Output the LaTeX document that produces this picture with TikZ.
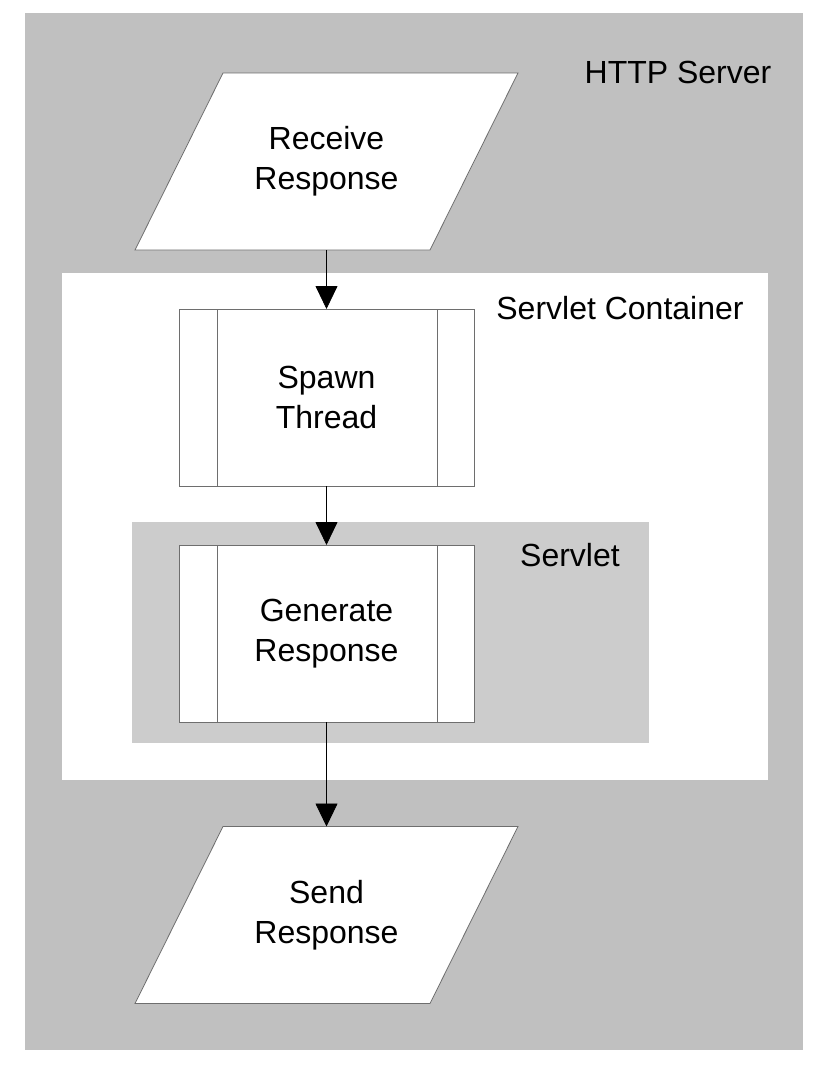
\documentclass[tikz,border=0pt]{standalone}
\usepackage{fontspec}
\setmainfont{Liberation Sans}
\usetikzlibrary{arrows.meta,backgrounds}
\definecolor{servergray}{HTML}{C0C0C0}
\definecolor{servletgray}{HTML}{CCCCCC}
\definecolor{edgegray}{HTML}{6E6E6E}
\tikzset{
  lbl/.style={font=\fontsize{32}{40}\selectfont, align=center, inner sep=0pt},
  iobox/.style={lbl, minimum width=295pt, minimum height=177pt, outer sep=0pt},
  procbox/.style={lbl, draw=edgegray, fill=white, line width=0.8pt,
    minimum width=295pt, minimum height=177pt, outer sep=0pt},
  ioshape/.style={draw=edgegray, fill=white, line width=0.8pt},
  flow/.style={-{Triangle[width=22pt,length=23pt]}, line width=0.8pt}
}
\begin{document}
\begin{tikzpicture}[x=1pt, y=-1pt]
    \useasboundingbox (0, 0) rectangle (827, 1069);
    \node[lbl] (httplbl) at (678, 72) {HTTP Server};
    \node[lbl] (containerlbl) at (620, 308) {Servlet Container};
    \node[lbl] (servletlbl) at (570, 555) {Servlet};
    % steps
    \node[iobox] (recv) at (326.5, 161.5) {Receive\\Response};
    \node[procbox] (spawn) at (326.5, 397.5) {Spawn\\Thread};
    \node[procbox] (gen) at (326.5, 633.5) {Generate\\Response};
    \node[iobox] (send) at (326.5, 915) {Send\\Response};
    \foreach \n in {spawn, gen} {
        \draw[edgegray, line width=0.8pt] ([xshift=38pt]\n.north west) -- ([xshift=38pt]\n.south west);
        \draw[edgegray, line width=0.8pt] ([xshift=-37pt]\n.north east) -- ([xshift=-37pt]\n.south east);
    }
    \draw[flow] (recv.south) -- (spawn.north);
    \draw[flow] (spawn.south) -- (gen.north);
    \draw[flow] (gen.south) -- (send.north);
    % nested containers and input/output shapes
    \begin{scope}[on background layer]
        \fill[white] (0, 0) rectangle (827, 1069);
        \fill[servergray] (25, 13) rectangle (803, 1050);
        \fill[white] (62, 273) rectangle (768, 780);
        \fill[servletgray] (132, 522) rectangle (649, 743);
        \foreach \n in {recv, send} {
            \draw[ioshape] ([xshift=44pt]\n.north west) -- ([xshift=44pt]\n.north east)
                -- ([xshift=-44pt]\n.south east) -- ([xshift=-44pt]\n.south west) -- cycle;
        }
    \end{scope}
\end{tikzpicture}
\end{document}
